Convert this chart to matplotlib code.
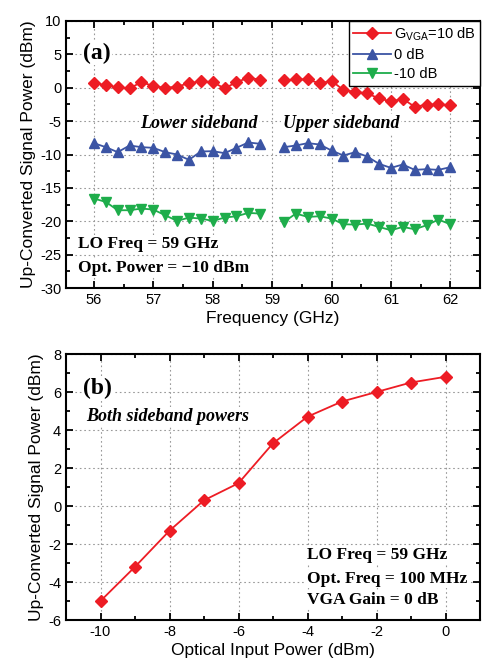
import matplotlib
matplotlib.use("Agg")
import matplotlib.pyplot as plt
from matplotlib.ticker import MultipleLocator

plt.rcParams['font.family'] = ['Liberation Sans', 'DejaVu Sans']
plt.rcParams['mathtext.fontset'] = 'custom'
plt.rcParams['mathtext.rm'] = 'Liberation Sans'
plt.rcParams['axes.unicode_minus'] = False

# ---- Data panel (a) ----
freq_lower = [56.0, 56.2, 56.4, 56.6, 56.8, 57.0, 57.2, 57.4, 57.6, 57.8, 58.0, 58.2, 58.4, 58.6, 58.8]
freq_upper = [59.2, 59.4, 59.6, 59.8, 60.0, 60.2, 60.4, 60.6, 60.8, 61.0, 61.2, 61.4, 61.6, 61.8, 62.0]

g10_lower = [0.7, 0.4, 0.05, -0.1, 0.85, 0.25, 0.0, 0.15, 0.7, 0.95, 0.85, -0.1, 0.85, 1.5, 1.2]
g10_upper = [1.1, 1.25, 1.25, 0.65, 1.05, -0.35, -0.6, -0.85, -1.6, -2.05, -1.65, -2.85, -2.55, -2.5, -2.6]

g0_lower = [-8.3, -8.9, -9.65, -8.65, -8.9, -9.0, -9.65, -10.0, -10.8, -9.55, -9.5, -9.8, -9.0, -8.2, -8.4]
g0_upper = [-8.9, -8.65, -8.3, -8.5, -9.4, -10.15, -9.65, -10.3, -11.4, -12.0, -11.5, -12.3, -12.2, -12.3, -11.9]

gm10_lower = [-16.6, -17.1, -18.35, -18.35, -18.1, -18.25, -19.1, -19.95, -19.45, -19.6, -19.95, -19.45, -19.25, -18.75, -18.85]
gm10_upper = [-20.1, -18.85, -19.35, -19.25, -19.6, -20.45, -20.5, -20.35, -20.85, -21.35, -20.85, -21.2, -20.6, -19.75, -20.45]

legend_labels = ["G$_{\\mathrm{VGA}}$=10 dB", "0 dB", "-10 dB"]

# ---- Data panel (b) ----
opt_power = [-10, -9, -8, -7, -6, -5, -4, -3, -2, -1, 0]
both_power = [-5.0, -3.2, -1.3, 0.3, 1.2, 3.3, 4.7, 5.5, 6.0, 6.5, 6.8]

RED = '#ED1C24'
BLUE = '#3B54A4'
GREEN = '#1EAD4B'

fig = plt.figure(figsize=(4.82, 6.67), dpi=100)
W, H = 482, 667
ax1 = fig.add_axes([66 / W, 1 - 288 / H, 414 / W, 267 / H])
ax2 = fig.add_axes([66 / W, 1 - 620 / H, 414 / W, 266 / H])

serif = ['Liberation Serif', 'DejaVu Serif']
box = dict(facecolor='white', edgecolor='none', pad=1.0)


def style(ax):
    for s in ax.spines.values():
        s.set_linewidth(1.5)
    ax.tick_params(which='both', direction='in', top=True, right=True, labelsize=10.5, width=1.3)
    ax.tick_params(which='major', length=5)
    ax.tick_params(which='minor', length=3)
    ax.grid(True, which='major', linestyle=(0, (1.5, 2.5)), color='#999999', linewidth=0.8)
    ax.set_axisbelow(True)


# Panel (a)
lw = 1.3
l1, = ax1.plot(freq_lower, g10_lower, '-D', color=RED, ms=6, lw=lw)
ax1.plot(freq_upper, g10_upper, '-D', color=RED, ms=6, lw=lw)
l2, = ax1.plot(freq_lower, g0_lower, '-^', color=BLUE, ms=7, lw=lw)
ax1.plot(freq_upper, g0_upper, '-^', color=BLUE, ms=7, lw=lw)
l3, = ax1.plot(freq_lower, gm10_lower, '-v', color=GREEN, ms=7, lw=lw)
ax1.plot(freq_upper, gm10_upper, '-v', color=GREEN, ms=7, lw=lw)

ax1.set_xlim(55.53, 62.5)
ax1.set_ylim(-30, 10)
ax1.xaxis.set_major_locator(MultipleLocator(1))
ax1.xaxis.set_minor_locator(MultipleLocator(0.5))
ax1.yaxis.set_major_locator(MultipleLocator(5))
ax1.yaxis.set_minor_locator(MultipleLocator(2.5))
style(ax1)
ax1.set_xlabel('Frequency (GHz)', fontsize=12.5, labelpad=3)
ax1.set_ylabel('Up-Converted Signal Power (dBm)', fontsize=12.5, labelpad=3)

leg = ax1.legend([l1, l2, l3], legend_labels, loc='upper right', bbox_to_anchor=(1, 1),
                 borderaxespad=0, fancybox=False, framealpha=1, edgecolor='black',
                 fontsize=10.5, handlelength=2.6, handletextpad=0.2, labelspacing=0.35,
                 borderpad=0.3)
leg.get_frame().set_linewidth(1.0)

ax1.text(0.041, 0.88, '(a)', transform=ax1.transAxes, family=serif, fontweight='bold',
         fontsize=17, va='center', ha='left', bbox=box)
ax1.text(0.179, 0.599, 'Lower sideband', transform=ax1.transAxes, family=serif,
         fontweight='bold', style='italic', fontsize=13, va='baseline', ha='left', bbox=box)
ax1.text(0.524, 0.599, 'Upper sideband', transform=ax1.transAxes, family=serif,
         fontweight='bold', style='italic', fontsize=13, va='baseline', ha='left', bbox=box)
ax1.text(0.029, 0.150, 'LO Freq = 59 GHz', transform=ax1.transAxes, family=serif,
         fontweight='bold', fontsize=12.5, va='baseline', ha='left', bbox=box)
ax1.text(0.029, 0.060, 'Opt. Power = \u221210 dBm', transform=ax1.transAxes, family=serif,
         fontweight='bold', fontsize=12.5, va='baseline', ha='left', bbox=box)

# Panel (b)
ax2.plot(opt_power, both_power, '-D', color=RED, ms=6.5, lw=lw)
ax2.set_xlim(-11, 1)
ax2.set_ylim(-6, 8)
ax2.xaxis.set_major_locator(MultipleLocator(2))
ax2.xaxis.set_minor_locator(MultipleLocator(1))
ax2.yaxis.set_major_locator(MultipleLocator(2))
ax2.yaxis.set_minor_locator(MultipleLocator(1))
style(ax2)
ax2.set_xlabel('Optical Input Power (dBm)', fontsize=12.5, labelpad=3)
ax2.set_ylabel('Up-Converted Signal Power (dBm)', fontsize=12.5, labelpad=3)

ax2.text(0.041, 0.872, '(b)', transform=ax2.transAxes, family=serif, fontweight='bold',
         fontsize=17, va='center', ha='left', bbox=box)
ax2.text(0.048, 0.748, 'Both sideband powers', transform=ax2.transAxes, family=serif,
         fontweight='bold', style='italic', fontsize=13, va='baseline', ha='left', bbox=box)
ax2.text(0.582, 0.229, 'LO Freq = 59 GHz', transform=ax2.transAxes, family=serif,
         fontweight='bold', fontsize=12.5, va='baseline', ha='left', bbox=box)
ax2.text(0.582, 0.139, 'Opt. Freq = 100 MHz', transform=ax2.transAxes, family=serif,
         fontweight='bold', fontsize=12.5, va='baseline', ha='left', bbox=box)
ax2.text(0.582, 0.060, 'VGA Gain = 0 dB', transform=ax2.transAxes, family=serif,
         fontweight='bold', fontsize=12.5, va='baseline', ha='left', bbox=box)

fig.savefig('out.png', dpi=100)
